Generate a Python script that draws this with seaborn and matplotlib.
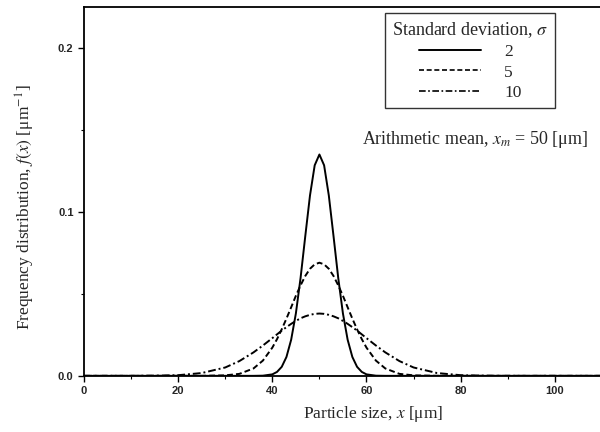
import matplotlib
matplotlib.use("Agg")
import matplotlib.pyplot as plt
import pandas as pd
import seaborn as sns
from matplotlib.lines import Line2D
from matplotlib.ticker import MultipleLocator

# ---- data ----
x_um = [0, 10, 15, 20, 25, 30, 33, 36, 38, 40, 41, 42, 43, 44, 45, 46, 47, 48, 49, 50,
        51, 52, 53, 54, 55, 56, 57, 58, 59, 60, 62, 64, 67, 70, 75, 80, 85, 90, 100, 110]
f_sigma2 = [0, 0, 0, 0, 0, 0, 0, 0, 0.0001, 0.0009, 0.0024, 0.0055, 0.0115, 0.0220, 0.0380,
            0.0597, 0.0852, 0.1100, 0.1284, 0.135,
            0.1284, 0.1100, 0.0852, 0.0597, 0.0380, 0.0220, 0.0115, 0.0055, 0.0024, 0.0009,
            0.0001, 0, 0, 0, 0, 0, 0, 0, 0, 0]
f_sigma5 = [0, 0, 0, 0, 0, 0.0003, 0.0012, 0.0045, 0.0093, 0.0172, 0.0224, 0.0284, 0.0349,
            0.0418, 0.0488, 0.0552, 0.0609, 0.0653, 0.0680, 0.069,
            0.0680, 0.0653, 0.0609, 0.0552, 0.0488, 0.0418, 0.0349, 0.0284, 0.0224, 0.0172,
            0.0093, 0.0045, 0.0012, 0.0003, 0, 0, 0, 0, 0, 0]
f_sigma10 = [0, 0, 0.0001, 0.0004, 0.0017, 0.0051, 0.0090, 0.0143, 0.0185, 0.0230, 0.0253,
             0.0276, 0.0297, 0.0317, 0.0335, 0.0351, 0.0363, 0.0372, 0.0378, 0.038,
             0.0378, 0.0372, 0.0363, 0.0351, 0.0335, 0.0317, 0.0297, 0.0276, 0.0253, 0.0230,
             0.0185, 0.0143, 0.0090, 0.0051, 0.0017, 0.0004, 0.0001, 0, 0, 0]
sigma_labels = ["2", "5", "10"]
x_ticks = [0, 20, 40, 60, 80, 100]
y_ticks = [0.0, 0.1, 0.2]
y_tick_labels = ["0.0", "0.1", "0.2"]

rows = []
for lab, ys in zip(sigma_labels, [f_sigma2, f_sigma5, f_sigma10]):
    for xv, yv in zip(x_um, ys):
        rows.append({"x": xv, "f": yv, "sigma": lab})
df = pd.DataFrame(rows)

sns.set_style("ticks")
plt.rcParams["font.family"] = ["Liberation Serif", "DejaVu Serif"]
plt.rcParams["mathtext.fontset"] = "stix"

fig = plt.figure(figsize=(6.0, 4.32), dpi=100)
ax = fig.add_axes([0.14, 0.13, 0.86, 0.854])

dash_map = {"2": "", "5": (3, 1.6), "10": (4, 1.5, 1, 1.5)}
sns.lineplot(data=df, x="x", y="f", hue="sigma", style="sigma",
             palette=["black"] * 3, dashes=dash_map, hue_order=sigma_labels,
             style_order=sigma_labels, legend=False, linewidth=1.4, ax=ax)

ax.set_xlim(0, 109.6)
ax.set_ylim(0, 0.225)
ax.set_xticks(x_ticks)
ax.set_yticks(y_ticks)
ax.set_yticklabels(y_tick_labels)
ax.xaxis.set_minor_locator(MultipleLocator(10))
ax.yaxis.set_minor_locator(MultipleLocator(0.05))
ax.tick_params(which="major", direction="out", length=4, width=1, labelsize=8, color="black")
ax.tick_params(which="minor", direction="out", length=2, width=0.8, color="black")
for lbl in ax.get_xticklabels() + ax.get_yticklabels():
    lbl.set_fontfamily("Liberation Sans")
    lbl.set_fontweight("bold")

for s in ["left", "bottom", "top"]:
    ax.spines[s].set_linewidth(1.3)
    ax.spines[s].set_color("black")
ax.spines["right"].set_visible(False)

ax.set_xlabel("Particle size, $x$ [μm]", fontsize=12.5)
ax.xaxis.set_label_coords(0.56, -0.076)
ax.set_ylabel("Frequency distribution, $f(x)$ [μm$^{-1}$]", fontsize=12.5)
ax.yaxis.set_label_coords(-0.092, 0.458)

handles = [Line2D([0], [0], color="black", lw=1.4, linestyle="-"),
           Line2D([0], [0], color="black", lw=1.2, dashes=dash_map["5"]),
           Line2D([0], [0], color="black", lw=1.2, dashes=dash_map["10"])]
leg = ax.legend(handles, sigma_labels, title="Standard deviation, $\\sigma$",
                loc="upper right", bbox_to_anchor=(0.913, 0.984), borderaxespad=0,
                frameon=True, fancybox=False, edgecolor="black", fontsize=12.5,
                title_fontsize=13, handlelength=3.6, handletextpad=1.3,
                borderpad=0.4, labelspacing=0.25, alignment="center")
leg.get_frame().set_linewidth(1.0)

ax.text(0.977, 0.64, "Arithmetic mean, $x_m$ = 50 [μm]", transform=ax.transAxes,
        ha="right", va="center", fontsize=13)

fig.savefig("out.png", dpi=100)
